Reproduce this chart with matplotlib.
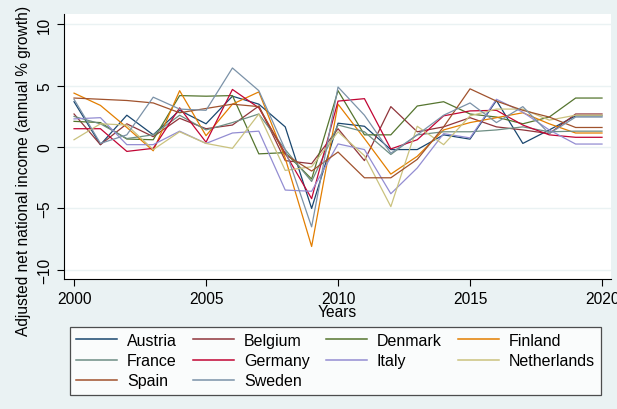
import matplotlib
matplotlib.use("Agg")
import matplotlib.pyplot as plt

plt.rcParams['font.family'] = ['Liberation Sans', 'DejaVu Sans']

years = list(range(2000, 2021))

austria     = [3.7, 0.2, 2.6, 1.0, 3.0, 1.9, 4.15, 3.5, 1.65, -5.0, 1.95, 1.7, -0.2, -0.2, 1.0, 0.65, 3.8, 0.3, 1.4, 2.55, 2.55]
belgium     = [2.7, 0.2, 1.9, 0.85, 2.35, 1.5, 1.8, 3.35, -1.1, -1.35, 1.5, -1.1, 3.3, 1.25, 1.65, 2.4, 1.65, 1.4, 1.1, 2.7, 2.7]
denmark     = [2.1, 2.0, 0.66, 0.6, 4.2, 4.15, 4.2, -0.55, -0.45, -2.6, 4.6, 1.0, 1.0, 3.35, 3.7, 2.7, 2.45, 1.9, 2.45, 4.0, 4.0]
finland     = [4.4, 3.4, 1.6, -0.3, 4.6, 0.93, 3.5, 4.5, -0.9, -8.1, 3.5, 0.7, -2.2, -0.75, 1.4, 2.0, 2.4, 2.8, 1.9, 1.15, 1.15]
france      = [2.5, 1.9, 0.7, 1.0, 2.6, 1.4, 2.0, 2.7, -0.2, -2.8, 1.8, 1.25, -0.6, 1.0, 1.25, 1.25, 1.4, 1.65, 1.25, 1.3, 1.3]
germany     = [1.5, 1.5, -0.35, -0.1, 3.2, 0.4, 4.7, 3.2, -0.5, -4.2, 3.75, 3.95, -0.15, 0.6, 2.55, 2.95, 3.0, 1.8, 1.0, 0.8, 0.8]
italy       = [2.3, 2.4, 0.2, 0.2, 1.3, 0.3, 1.15, 1.3, -3.5, -3.6, 0.26, -0.2, -3.8, -1.7, 1.1, 0.75, 3.9, 2.85, 1.4, 0.25, 0.25]
netherlands = [0.6, 1.9, 1.8, -0.2, 1.25, 0.3, -0.1, 2.7, -1.9, -1.6, 1.25, -0.7, -4.85, 1.7, 0.2, 2.55, 3.1, 3.1, 2.2, 2.6, 2.6]
spain       = [4.0, 3.9, 3.8, 3.6, 2.8, 3.15, 3.5, 3.3, -0.6, -1.95, -0.4, -2.5, -2.5, -1.0, 1.65, 4.75, 3.75, 3.0, 2.45, 1.6, 1.6]
sweden      = [3.9, 0.3, 1.0, 4.07, 3.1, 3.0, 6.45, 4.6, -0.2, -6.5, 4.9, 2.6, -0.5, 1.0, 2.6, 3.6, 2.0, 3.3, 1.1, 2.45, 2.45]

series = [
    ("Austria", austria, "#1a476f"),
    ("Belgium", belgium, "#90353b"),
    ("Denmark", denmark, "#55752f"),
    ("Finland", finland, "#e37e00"),
    ("France", france, "#6e8e84"),
    ("Germany", germany, "#c10534"),
    ("Italy", italy, "#938dd2"),
    ("Netherlands", netherlands, "#cac27e"),
    ("Spain", spain, "#a0522d"),
    ("Sweden", sweden, "#7b92a8"),
]

bg = "#eaf2f3"
fig = plt.figure(figsize=(6.17, 4.10), dpi=100, facecolor=bg)
ax = fig.add_axes([64/617, 1 - 280/410, (611-64)/617, (280-15)/410])
ax.set_facecolor("white")

lines = {}
for name, vals, col in series:
    lines[name] = ax.plot(years, vals, color=col, linewidth=0.9, label=name)[0]

ax.set_xlim(1999.62, 2020.34)
ax.set_ylim(-10.75, 10.85)
ax.set_xticks([2000, 2005, 2010, 2015, 2020])
ax.set_yticks([-10, -5, 0, 5, 10])
ax.grid(axis='y', color="#eaf2f3", linewidth=1.0)
ax.set_axisbelow(True)
for s in ['top', 'right']:
    ax.spines[s].set_visible(False)
for s in ['left', 'bottom']:
    ax.spines[s].set_color('black')
    ax.spines[s].set_linewidth(0.8)
ax.tick_params(direction='out', length=5, width=0.8, labelsize=11.2)
plt.setp(ax.get_yticklabels(), rotation=90, va='center')
ax.set_xlabel("Years", fontsize=11.2, labelpad=-1)
ax.set_ylabel("Adjusted net national income (annual % growth)", fontsize=11.2)
ax.yaxis.set_label_coords(-0.06, 0.41)

# legend filled row by row, like Stata
order = ["Austria", "France", "Spain", "Belgium", "Germany", "Sweden",
         "Denmark", "Italy", "Finland", "Netherlands"]
leg = fig.legend([lines[n] for n in order], order,
                 loc='upper left', bbox_to_anchor=(69.5/617, 1 - 327.5/410),
                 ncol=4, fontsize=11.5, frameon=True, fancybox=False,
                 edgecolor='#222222', handlelength=2.57, handletextpad=0.63,
                 columnspacing=1.0, labelspacing=0.33, borderpad=0.4,
                 borderaxespad=0)
leg.get_frame().set_linewidth(0.9)
for line in leg.get_lines():
    line.set_linewidth(1.1)

fig.savefig("out.png", dpi=100, facecolor=bg)
